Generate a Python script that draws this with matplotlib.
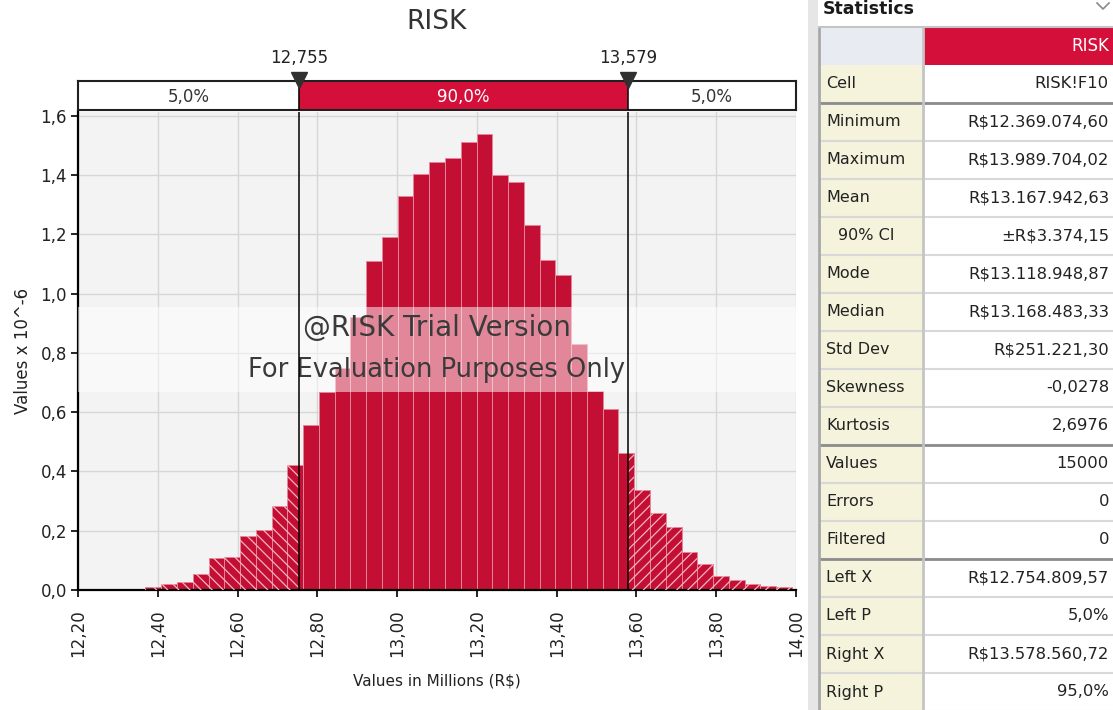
import numpy as np
import matplotlib.pyplot as plt
from matplotlib.patches import Rectangle

plt.rcParams['font.family'] = ['DejaVu Sans']

# ---- data ----
# density (Values x 10^-6), 41 equal bins between the simulated min and max
x_min = 12.3690746
x_max = 13.9897040
heights = [0.011, 0.020, 0.028, 0.054, 0.107, 0.112, 0.182, 0.202, 0.283, 0.421,
           0.556, 0.670, 0.750, 0.920, 1.111, 1.190, 1.330, 1.405, 1.446, 1.459,
           1.513, 1.540, 1.400, 1.378, 1.231, 1.114, 1.063, 0.830, 0.673, 0.612,
           0.462, 0.337, 0.260, 0.213, 0.127, 0.088, 0.047, 0.034, 0.020, 0.013,
           0.009]

left_x = 12.7548096
right_x = 13.5785607
delim_labels = ["12,755", "13,579"]
band_labels = ["5,0%", "90,0%", "5,0%"]

x_ticks = [12.2, 12.4, 12.6, 12.8, 13.0, 13.2, 13.4, 13.6, 13.8, 14.0]
x_tick_labels = ["12,20", "12,40", "12,60", "12,80", "13,00", "13,20", "13,40",
                 "13,60", "13,80", "14,00"]
y_ticks = [0.0, 0.2, 0.4, 0.6, 0.8, 1.0, 1.2, 1.4, 1.6]
y_tick_labels = ["0,0", "0,2", "0,4", "0,6", "0,8", "1,0", "1,2", "1,4", "1,6"]

stat_names = ["Cell", "Minimum", "Maximum", "Mean", "90% CI", "Mode", "Median",
              "Std Dev", "Skewness", "Kurtosis", "Values", "Errors", "Filtered",
              "Left X", "Left P", "Right X", "Right P"]
stat_values = ["RISK!F10", "R$12.369.074,60", "R$13.989.704,02", "R$13.167.942,63",
               "\u00b1R$3.374,15", "R$13.118.948,87", "R$13.168.483,33",
               "R$251.221,30", "-0,0278", "2,6976", "15000", "0", "0",
               "R$12.754.809,57", "5,0%", "R$13.578.560,72", "95,0%"]

RED = '#c40f34'
BOXRED = '#d4103a'

W, H = 1113, 710
fig = plt.figure(figsize=(W / 100, H / 100), dpi=100)


def px_box(l, t, r, b):
    return [l / W, 1 - b / H, (r - l) / W, (b - t) / H]


# ---- histogram ----
ax = fig.add_axes(px_box(78, 112, 796, 590))
ax.set_facecolor('#f3f3f3')
h = np.array(heights)
edges = np.linspace(x_min, x_max, len(h) + 1)
lefts = edges[:-1]
rights = edges[1:]
bw = edges[1] - edges[0]

ax.bar(lefts, h, width=bw, align='edge', color=RED, edgecolor='#e58599',
       linewidth=0.7, zorder=2)

# hatched tails
plt.rcParams['hatch.linewidth'] = 0.9
wl = np.minimum(rights, left_x) - lefts
m = wl > 0
ax.bar(lefts[m], h[m], width=wl[m], align='edge', facecolor='none',
       edgecolor='#f3b3c1', hatch='\\\\\\', linewidth=0, zorder=3)
rs = np.maximum(lefts, right_x)
wr = rights - rs
m = wr > 0
ax.bar(rs[m], h[m], width=wr[m], align='edge', facecolor='none',
       edgecolor='#f3b3c1', hatch='///', linewidth=0, zorder=3)

ax.axvline(left_x, color='black', lw=1.1, zorder=6)
ax.axvline(right_x, color='black', lw=1.1, zorder=6)

ax.set_xlim(12.2, 14.0)
ax.set_ylim(0, 1.6135)
ax.set_xticks(x_ticks)
ax.set_xticklabels(x_tick_labels, rotation=90, fontsize=12, color='#222222')
ax.set_yticks(y_ticks)
ax.set_yticklabels(y_tick_labels, fontsize=12, color='#222222')
ax.tick_params(direction='out', length=5, width=1.2, pad=3)
ax.tick_params(axis='x', pad=9)
ax.grid(True, color='#d6d6d6', lw=1)
ax.set_axisbelow(True)
for s in ['top', 'right']:
    ax.spines[s].set_visible(False)
for s in ['left', 'bottom']:
    ax.spines[s].set_linewidth(1.6)
ax.set_xlabel("Values in Millions (R$)", fontsize=11, color='#222222', labelpad=12)
ax.set_ylabel("Values x 10^-6", fontsize=12, color='#222222', labelpad=6)

# watermark
ax.add_patch(Rectangle((0, 0.414), 1, 0.178, transform=ax.transAxes,
                       facecolor='white', alpha=0.5, lw=0, zorder=4))
ax.text(0.5, 0.548, "@RISK Trial Version", transform=ax.transAxes, ha='center',
        va='center', fontsize=20, color='#3a3a3a', zorder=5)
ax.text(0.5, 0.460, "For Evaluation Purposes Only", transform=ax.transAxes,
        ha='center', va='center', fontsize=18.5, color='#3a3a3a', zorder=5)

# ---- delimiter bar ----
bx = fig.add_axes(px_box(78, 81, 796, 110))
bx.set_xlim(12.2, 14.0)
bx.set_ylim(0, 1)
bx.axvspan(12.2, left_x, color='white', zorder=1)
bx.axvspan(left_x, right_x, color=BOXRED, zorder=1)
bx.axvspan(right_x, 14.0, color='white', zorder=1)
bx.set_xticks([])
bx.set_yticks([])
for s in bx.spines.values():
    s.set_linewidth(1.5)
    s.set_color('#202020')
bx.axvline(left_x, color='black', lw=1.1, zorder=3)
bx.axvline(right_x, color='black', lw=1.1, zorder=3)
mids = [(12.2 + left_x) / 2, (left_x + right_x) / 2, (right_x + 14.0) / 2]
cols = ['#333333', 'white', '#333333']
for xm, lab, c in zip(mids, band_labels, cols):
    bx.text(xm, 0.45, lab, ha='center', va='center', fontsize=12, color=c)
tr = bx.get_xaxis_transform()
for xv, lab in zip([left_x, right_x], delim_labels):
    bx.plot([xv], [1.03], marker='v', markersize=11, color='#303030',
            transform=tr, clip_on=False, zorder=5)
    bx.text(xv, 1.79, lab, transform=tr, ha='center', va='center', fontsize=12,
            color='#222222')

fig.text(437 / W, 1 - 22 / H, "RISK", ha='center', va='center', fontsize=19,
         color='#333333')

# ---- statistics panel ----
tab = fig.add_axes([0, 0, 1, 1], zorder=-1)
tab.set_xlim(0, W)
tab.set_ylim(H, 0)
tab.axis('off')
tab.add_patch(Rectangle((808, 0), 10, H, facecolor='#e6e6e6', lw=0))
tab.add_patch(Rectangle((818, 0), W - 818, H, facecolor='white', lw=0))
tab.text(823, 14, "Statistics", fontsize=12.5, fontweight='bold', color='#1a1a1a',
         va='baseline', ha='left')
tab.plot([1097, 1103, 1109], [3, 9, 3], color='#8a8a8a', lw=1.2)

top = 27
row_h = 38
tab.add_patch(Rectangle((820, top), 102, row_h, facecolor='#e8ecf2', lw=0))
tab.add_patch(Rectangle((924, top), W - 924, row_h, facecolor=BOXRED, lw=0))
tab.text(1109, top + row_h / 2, "RISK", ha='right', va='center', fontsize=12,
         color='white')

n_rows = len(stat_names)
y0 = top + row_h
tab.add_patch(Rectangle((820, y0), 102, row_h * n_rows, facecolor='#f5f3dc', lw=0))
for i, (name, val) in enumerate(zip(stat_names, stat_values)):
    yc = y0 + row_h * (i + 0.5)
    xl = 838 if name == "90% CI" else 826
    tab.text(xl, yc, name, ha='left', va='center', fontsize=11.5, color='#222222')
    tab.text(1109, yc, val, ha='right', va='center', fontsize=11.8, color='#222222')
    yb = y0 + row_h * (i + 1)
    tab.plot([820, W], [yb, yb], color='#d8d8d8', lw=1.5)

for k in [1, 10, 13]:
    yb = y0 + row_h * k
    tab.plot([820, W], [yb, yb], color='#8c8c8c', lw=2)

tab.plot([923, 923], [top, H], color='#c4c4c4', lw=2)
tab.plot([819, 819], [top, H], color='#a8a8a8', lw=2)
tab.plot([819, W], [top, top], color='#c4c4c4', lw=1.5)

fig.savefig('out.png', dpi=100)
